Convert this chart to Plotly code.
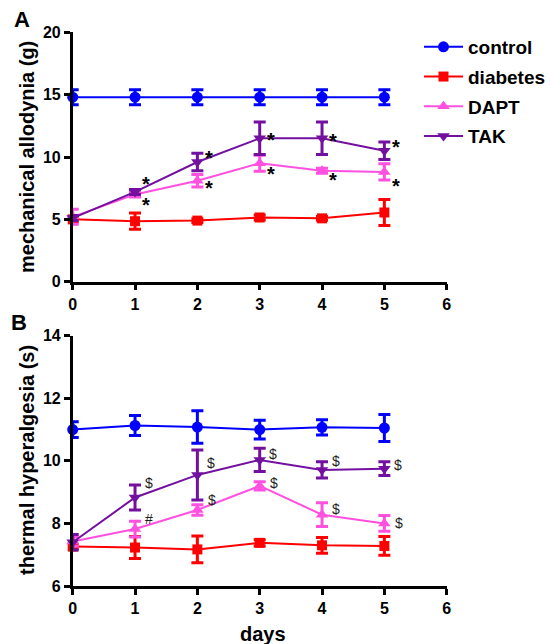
import plotly.graph_objects as go

W, H = 551, 644

days = [0, 1, 2, 3, 4, 5]

# Panel A: mechanical allodynia (g)
a_control = [14.8, 14.8, 14.8, 14.8, 14.8, 14.8]
a_control_err = [0.6, 0.6, 0.6, 0.6, 0.6, 0.6]
a_diabetes = [5.0, 4.85, 4.9, 5.15, 5.08, 5.55]
a_diabetes_err = [0.2, 0.65, 0.15, 0.2, 0.15, 1.05]
a_dapt = [5.2, 7.0, 8.1, 9.5, 8.9, 8.8]
a_dapt_err = [0.6, 0.2, 0.5, 0.65, 0.2, 0.65]
a_tak = [5.1, 7.2, 9.6, 11.5, 11.5, 10.5]
a_tak_err = [0.2, 0.2, 0.7, 1.3, 1.3, 0.7]
a_tak_star_dy = [None, 1.0, 0.7, 0.3, 0.15, 0.7]
a_dapt_star_dy = [None, -0.45, -0.2, -0.5, -0.35, -0.7]

# Panel B: thermal hyperalgesia (s)
b_control = [11.0, 11.13, 11.08, 11.0, 11.07, 11.05]
b_control_err = [0.25, 0.32, 0.52, 0.3, 0.24, 0.43]
b_diabetes = [7.26, 7.23, 7.17, 7.38, 7.3, 7.28]
b_diabetes_err = [0.08, 0.35, 0.43, 0.1, 0.25, 0.3]
b_dapt = [7.42, 7.82, 8.43, 9.2, 8.28, 8.0]
b_dapt_err = [0.15, 0.25, 0.17, 0.13, 0.38, 0.25]
b_tak = [7.4, 8.83, 9.55, 10.03, 9.71, 9.75]
b_tak_err = [0.25, 0.4, 0.8, 0.37, 0.26, 0.22]
b_tak_mark = [None, "$", "$", "$", "$", "$"]
b_tak_mark_dy = [None, 0.45, 0.39, 0.19, 0.28, 0.12]
b_dapt_mark = [None, "#", "$", "$", "$", "$"]
b_dapt_mark_dy = [None, 0.32, 0.32, 0.08, 0.17, 0.0]

names = ["control", "diabetes", "DAPT", "TAK"]
colors = ["#0000FF", "#FF0000", "#FF50E0", "#7310A0"]
symbols = ["circle", "square", "triangle-up", "triangle-down"]
msizes = [11, 10, 11, 11]

FONT = "Liberation Sans, Arial, sans-serif"

fig = go.Figure()

panels = [
    ("x", "y", [a_control, a_diabetes, a_dapt, a_tak],
     [a_control_err, a_diabetes_err, a_dapt_err, a_tak_err], True),
    ("x2", "y2", [b_control, b_diabetes, b_dapt, b_tak],
     [b_control_err, b_diabetes_err, b_dapt_err, b_tak_err], False),
]
for xa, ya, vals, errs, show in panels:
    for i in range(4):
        fig.add_trace(go.Scatter(
            x=days, y=vals[i], xaxis=xa, yaxis=ya, name=names[i],
            mode="lines+markers", showlegend=show, legendgroup=names[i],
            line=dict(color=colors[i], width=2),
            marker=dict(symbol=symbols[i], size=msizes[i], color=colors[i]),
            error_y=dict(type="data", array=errs[i], visible=True,
                         color=colors[i], thickness=3, width=6),
            cliponaxis=False,
        ))

# significance marks
ann = []
for d in days:
    if a_tak_star_dy[d] is not None:
        for v, dy in ((a_tak, a_tak_star_dy), (a_dapt, a_dapt_star_dy)):
            ann.append(dict(x=d + 0.18, y=v[d] + dy[d], xref="x", yref="y",
                            text="*", showarrow=False, xanchor="center", yanchor="middle",
                            font=dict(size=20, color="black", family=FONT, weight="bold"),
                            yshift=-5))
    if b_tak_mark[d] is not None:
        ann.append(dict(x=d + 0.22, y=b_tak[d] + b_tak_mark_dy[d], xref="x2", yref="y2",
                        text=b_tak_mark[d], showarrow=False, xanchor="center", yanchor="middle",
                        font=dict(size=14, color="#222222", family=FONT)))
        ann.append(dict(x=d + 0.23, y=b_dapt[d] + b_dapt_mark_dy[d], xref="x2", yref="y2",
                        text=b_dapt_mark[d], showarrow=False, xanchor="center", yanchor="middle",
                        font=dict(size=14, color="#222222", family=FONT)))

def px_x(p):
    return p / W

def px_y(p):
    return 1 - p / H

def lab(xp, yp, text, size, angle=0):
    return dict(x=px_x(xp), y=px_y(yp), xref="paper", yref="paper", text=text,
                showarrow=False, xanchor="center", yanchor="middle", textangle=angle,
                font=dict(size=size, color="black", family=FONT, weight="bold"))

ann += [
    lab(22, 20, "A", 22),
    lab(19, 322, "B", 22),
    lab(27, 157, "mechanical allodynia (g)", 20, -90),
    lab(27, 460, "thermal hyperalgesia (s)", 20, -90),
    lab(263, 634, "days", 20),
]

xdom = [72.7 / W, 446.7 / W]
axis_common = dict(showline=True, linecolor="black", linewidth=2.5, ticks="outside",
                   ticklen=6, tickwidth=2.5, tickcolor="black", showgrid=False, zeroline=False,
                   automargin=False,
                   tickfont=dict(size=16, color="black", family=FONT, weight="bold"))

fig.update_layout(
    width=W, height=H, autosize=False,
    margin=dict(l=0, r=0, t=0, b=0, pad=0, autoexpand=False),
    plot_bgcolor="white", paper_bgcolor="white",
    font=dict(family=FONT),
    xaxis=dict(domain=xdom, range=[0, 6], tickvals=[0, 1, 2, 3, 4, 5, 6], anchor="y", **axis_common),
    yaxis=dict(domain=[px_y(281.7), px_y(32.3)], range=[0, 20], tickvals=[0, 5, 10, 15, 20],
               anchor="x", **axis_common),
    xaxis2=dict(domain=xdom, range=[0, 6], tickvals=[0, 1, 2, 3, 4, 5, 6], anchor="y2", **axis_common),
    yaxis2=dict(domain=[px_y(586), px_y(335.7)], range=[6, 14], tickvals=[6, 8, 10, 12, 14],
                anchor="x2", **axis_common),
    legend=dict(x=px_x(419), y=px_y(28), xanchor="left", yanchor="top",
                font=dict(size=19, color="black", family=FONT, weight="bold"),
                tracegroupgap=2, itemwidth=39, bgcolor="rgba(0,0,0,0)"),
    annotations=ann,
    showlegend=True,
)

fig.write_html("out.html", post_script="document.body.style.margin='0';",
               config={"displayModeBar": False})
